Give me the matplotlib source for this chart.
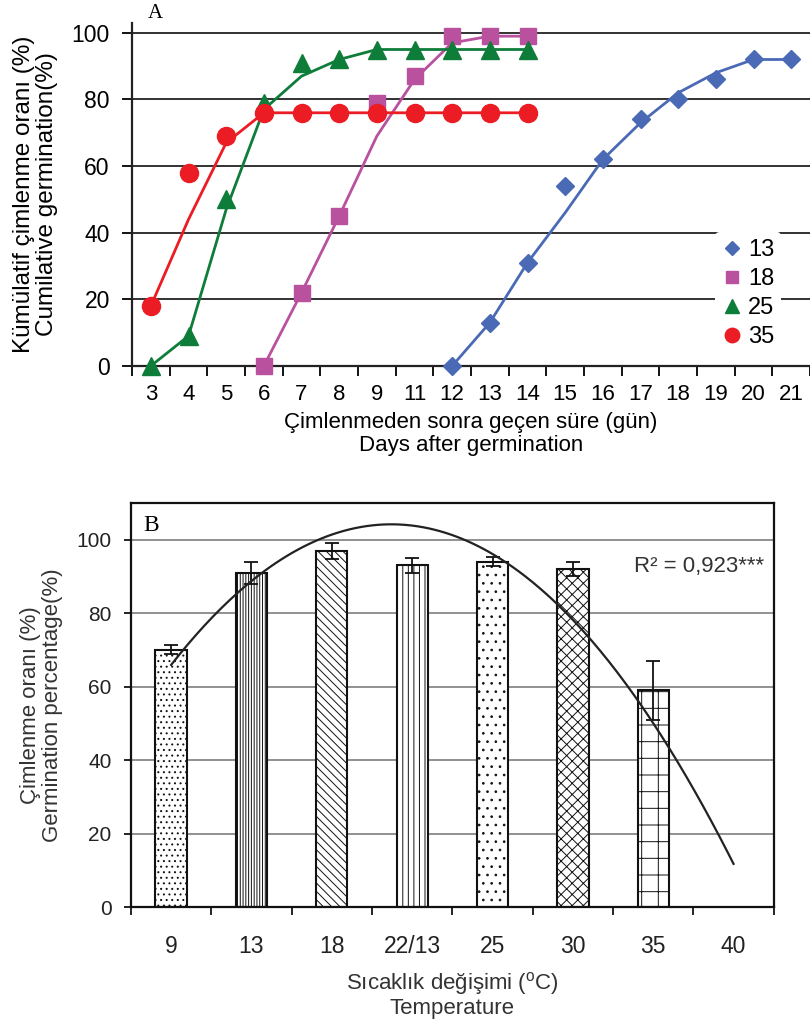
import numpy as np
import matplotlib.pyplot as plt
from matplotlib.lines import Line2D

plt.rcParams['font.family'] = ['Liberation Sans', 'DejaVu Sans']
plt.rcParams['mathtext.fontset'] = 'custom'
plt.rcParams['mathtext.rm'] = 'Liberation Sans'
plt.rcParams['mathtext.it'] = 'Liberation Sans:italic'
plt.rcParams['hatch.linewidth'] = 0.7

# ---- panel A: cumulative germination by day ----
days = ['3', '4', '5', '6', '7', '8', '9', '11', '12', '13', '14',
        '15', '16', '17', '18', '19', '20', '21']

days_13 = ['12', '13', '14', '15', '16', '17', '18', '19', '20', '21']
germ_13 = [0, 13, 31, 54, 62, 74, 80, 86, 92, 92]
fit_13 = [0, 13, 31, 46, 62, 73, 82, 88, 92, 92]

days_18 = ['6', '7', '8', '9', '11', '12', '13', '14']
germ_18 = [0, 22, 45, 79, 87, 99, 99, 99]
fit_18 = [0, 22, 45, 69, 86, 97, 99, 99]

days_25 = ['3', '4', '5', '6', '7', '8', '9', '11', '12', '13', '14']
germ_25 = [0, 9, 50, 79, 91, 92, 95, 95, 95, 95, 95]
fit_25 = [0, 9, 47, 77, 87, 92, 95, 95, 95, 95, 95]

days_35 = ['3', '4', '5', '6', '7', '8', '9', '11', '12', '13', '14']
germ_35 = [18, 58, 69, 76, 76, 76, 76, 76, 76, 76, 76]
fit_35 = [18, 44, 67, 76, 76, 76, 76, 76, 76, 76, 76]

# ---- panel B: germination percentage by temperature ----
temps = ['9', '13', '18', '22/13', '25', '30', '35', '40']
germ_pct = [70, 91, 97, 93, 94, 92, 59]
germ_err = [1.2, 3, 2.2, 2, 1.2, 2, 8]
trend_y = [66, 89, 101, 104, 95, 79, 51, 11]   # quadratic trendline read at each category

fig = plt.figure(figsize=(8.1, 10.25), dpi=100)

# ================= A =================
axA = fig.add_axes([0.163, 0.643, 0.837, 0.3347])
pos = {d: i for i, d in enumerate(days)}

series = [
    ('13', days_13, germ_13, fit_13, '#4a6ab5', 'D', 9.5),
    ('18', days_18, germ_18, fit_18, '#b9519f', 's', 11.5),
    ('25', days_25, germ_25, fit_25, '#0f7d3a', '^', 12.5),
    ('35', days_35, germ_35, fit_35, '#ec1c24', 'o', 13),
]
handles = []
for name, dd, yy, ff, col, mk, ms in series:
    xx = [pos[d] for d in dd]
    axA.plot(xx, ff, color=col, lw=2, zorder=3, clip_on=False)
    axA.plot(xx, yy, ls='none', marker=mk, ms=ms, color=col, mec=col,
             zorder=4, clip_on=False)
    handles.append(Line2D([], [], ls='none', marker=mk, color=col,
                          ms=ms * 0.8, label=name))

axA.set_xlim(-0.5, len(days) - 0.5)
axA.set_ylim(0, 103)
axA.set_yticks([0, 20, 40, 60, 80, 100])
axA.set_xticks(range(len(days)))
axA.set_xticklabels(days)
axA.set_xticks(np.arange(-0.5, len(days), 1), minor=True)
axA.tick_params(axis='x', which='major', length=0, pad=13, labelsize=16)
axA.tick_params(axis='x', which='minor', length=7, width=1.3, direction='out')
axA.tick_params(axis='y', length=7, width=1.3, labelsize=16.5, pad=9)
axA.yaxis.grid(True, color='#222222', lw=1.3)
axA.set_axisbelow(True)
for s in ['top', 'right']:
    axA.spines[s].set_visible(False)
for s in ['left', 'bottom']:
    axA.spines[s].set_linewidth(1.6)
    axA.spines[s].set_color('#222222')

axA.set_ylabel('Kümülatif çimlenme oranı (%)\nCumilative germination(%)',
               fontsize=17.5, linespacing=1.05, labelpad=10)
axA.set_xlabel('Çimlenmeden sonra geçen süre (gün)\nDays after germination',
               fontsize=16, linespacing=1.1, labelpad=5)
fig.text(155 / 810, 1 - 13 / 1025, 'A', family='Liberation Serif',
         fontsize=15, ha='center', va='center')

leg = axA.legend(handles=handles, loc='upper left', bbox_to_anchor=(0.86, 0.39),
                 frameon=True, framealpha=1, edgecolor='none', facecolor='white',
                 fontsize=17, handlelength=0.8, handletextpad=0.3,
                 labelspacing=0.3, borderpad=0.3, borderaxespad=0)
leg.set_zorder(10)

# ================= B =================
axB = fig.add_axes([0.1617, 0.1151, 0.7935, 0.3942])
xb = np.arange(len(temps))
hatches = ['...', '||||||', '\\\\\\\\', '|||', '..', 'xxx', '+']
bars = axB.bar(xb[:len(germ_pct)], germ_pct, width=0.39, color='white',
               edgecolor='#111111', lw=1.5, zorder=2)
for b, h in zip(bars, hatches):
    b.set_hatch(h)
axB.errorbar(xb[:len(germ_pct)], germ_pct, yerr=germ_err, fmt='none',
             ecolor='#111111', elinewidth=1.3, capsize=5, capthick=1.3, zorder=3)

coef = np.polyfit(xb, trend_y, 2)
xs = np.linspace(0, len(temps) - 1, 200)
axB.plot(xs, np.polyval(coef, xs), color='#222222', lw=1.6, zorder=4)

axB.set_xlim(-0.5, len(temps) - 0.5)
axB.set_ylim(0, 110)
axB.set_yticks([0, 20, 40, 60, 80, 100])
axB.set_xticks(xb)
axB.set_xticklabels(temps)
axB.set_xticks(np.arange(-0.5, len(temps), 1), minor=True)
axB.tick_params(axis='x', which='major', length=0, pad=20, labelsize=16.5,
                labelcolor='#222222')
axB.tick_params(axis='x', which='minor', length=6, width=1.2, direction='out')
axB.tick_params(axis='y', length=5, width=1.2, labelsize=15, pad=9,
                labelcolor='#222222')
axB.yaxis.grid(True, color='#888888', lw=1.3)
axB.set_axisbelow(True)
for s in axB.spines.values():
    s.set_linewidth(1.6)
    s.set_color('#111111')

axB.set_ylabel('Çimlenme oranı (%)\nGermination percentage(%)',
               fontsize=16, linespacing=1.05, labelpad=10, color='#333333')
axB.set_xlabel('Sıcaklık değişimi ($^{\\mathrm{o}}$C)\nTemperature', fontsize=16,
               linespacing=1.05, labelpad=9, color='#333333')
axB.text(0.985, 0.842, 'R² = 0,923***', transform=axB.transAxes,
         ha='right', va='center', fontsize=16, color='#333333')
axB.text(0.02, 0.97, 'B', transform=axB.transAxes, family='Liberation Serif',
         fontsize=17, ha='left', va='top')

fig.savefig('out.png', dpi=100)
